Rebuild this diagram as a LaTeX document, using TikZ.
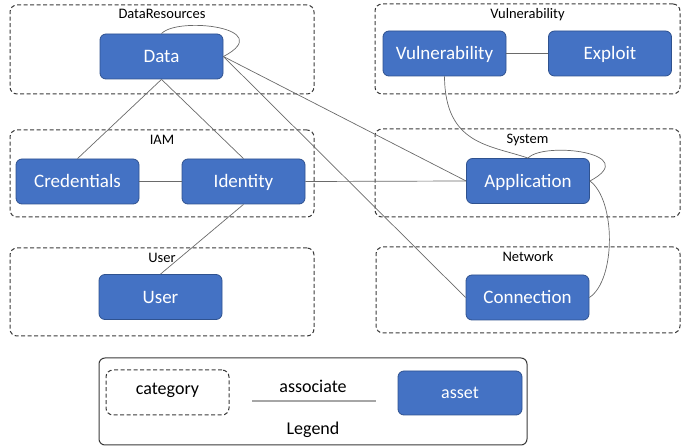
\documentclass[tikz,border=0pt]{standalone}
\usepackage{fontspec}
\setmainfont{Carlito}
\definecolor{assetblue}{HTML}{4472C4}
\definecolor{assetedge}{HTML}{2F528F}
\definecolor{linkgray}{HTML}{6A6A6A}
\definecolor{catedge}{HTML}{3A3A3A}
\definecolor{legline}{HTML}{A6A6A6}
\tikzset{
  asset/.style={draw=assetedge, fill=assetblue, rounded corners=6pt,
    minimum width=123pt, minimum height=45pt, text=white,
    font=\fontsize{19}{22}\selectfont, inner sep=0pt, line width=0.8pt,
    text height=12.4pt, text depth=0pt},
  category/.style={draw=catedge, dash pattern=on 4pt off 2.5pt,
    rounded corners=7pt, line width=1pt, inner sep=0pt},
  catlabel/.style={font=\fontsize{14.5}{17}\selectfont, text=black,
    inner sep=0pt, anchor=base},
  legtext/.style={font=\fontsize{18}{21}\selectfont, text=black,
    inner sep=0pt, anchor=base},
  link/.style={draw=linkgray, line width=0.7pt},
}
\begin{document}
\begin{tikzpicture}[x=1pt,y=-1pt]
\useasboundingbox (0,0) rectangle (694,446);

% category boxes
\node[category, minimum width=304pt, minimum height=89pt] (catData) at (162,49.5) {};
\node[catlabel] (labData) at (162,19) {DataResources};
\node[category, minimum width=304pt, minimum height=87pt] (catIAM) at (162,173.5) {};
\node[catlabel] (labIAM) at (162,145) {IAM};
\node[category, minimum width=304pt, minimum height=88pt] (catUser) at (162,292) {};
\node[catlabel] (labUser) at (162,263) {User};
\node[category, minimum width=305pt, minimum height=90pt] (catVuln) at (527.5,49) {};
\node[catlabel] (labVuln) at (527.5,19) {Vulnerability};
\node[category, minimum width=305pt, minimum height=88pt] (catSys) at (527.5,173) {};
\node[catlabel] (labSys) at (527.5,144) {System};
\node[category, minimum width=304pt, minimum height=86pt] (catNet) at (528,290) {};
\node[catlabel] (labNet) at (528,261.5) {Network};

% assets
\node[asset] (Data) at (161.5,56.5) {Data};
\node[asset] (Cred) at (77.5,181.5) {Credentials};
\node[asset] (Ident) at (243.5,181.5) {Identity};
\node[asset] (User) at (160.5,297) {User};
\node[asset] (Vuln) at (444.5,53.5) {Vulnerability};
\node[asset] (Expl) at (610,53.5) {Exploit};
\node[asset] (App) at (528,181) {Application};
\node[asset] (Conn) at (527.5,297.5) {Connection};

% connectors
\draw[link] (Data.south) -- (Cred.north);
\draw[link] (Data.south) -- (Ident.north);
\draw[link] (Cred.east) -- (Ident.west);
\draw[link] (Ident.south) -- (User.north);
\draw[link] (Ident.east) -- (App.west);
\draw[link] (Data.east) -- (App.west);
\draw[link] (Data.east) -- (Conn.west);
\draw[link] (Vuln.east) -- (Expl.west);
\draw[link] (Data.north) .. controls (178,16) and (278,28) .. (Data.east);
\draw[link] (App.north) .. controls (544,141) and (643,153) .. (App.east);
\draw[link] (Vuln.south) .. controls (445,145) and (490,145) .. (App.north);
\draw[link] (App.east) .. controls (616,200) and (616,280) .. (Conn.east);

% legend
\node[draw=catedge, line width=1pt, rounded corners=6pt, minimum width=428pt,
  minimum height=87pt, inner sep=0pt] (legend) at (313,401.5) {};
\node[category, minimum width=123pt, minimum height=45pt] (legCat) at (167.5,392.5) {};
\node[legtext] (legCatText) at (167.5,395) {category};
\coordinate (assocL) at (252,401);
\coordinate (assocR) at (376,401);
\draw[draw=legline, line width=1.2pt] (assocL) -- (assocR);
\node[legtext] (legAssoc) at (313,392.5) {associate};
\node[asset, font=\fontsize{18}{21}\selectfont, text height=11.6pt, minimum width=124pt,
  minimum height=44pt] (legAsset) at (460,393) {asset};
\node[legtext] (legTitle) at (313,435) {Legend};
\end{tikzpicture}
\end{document}
